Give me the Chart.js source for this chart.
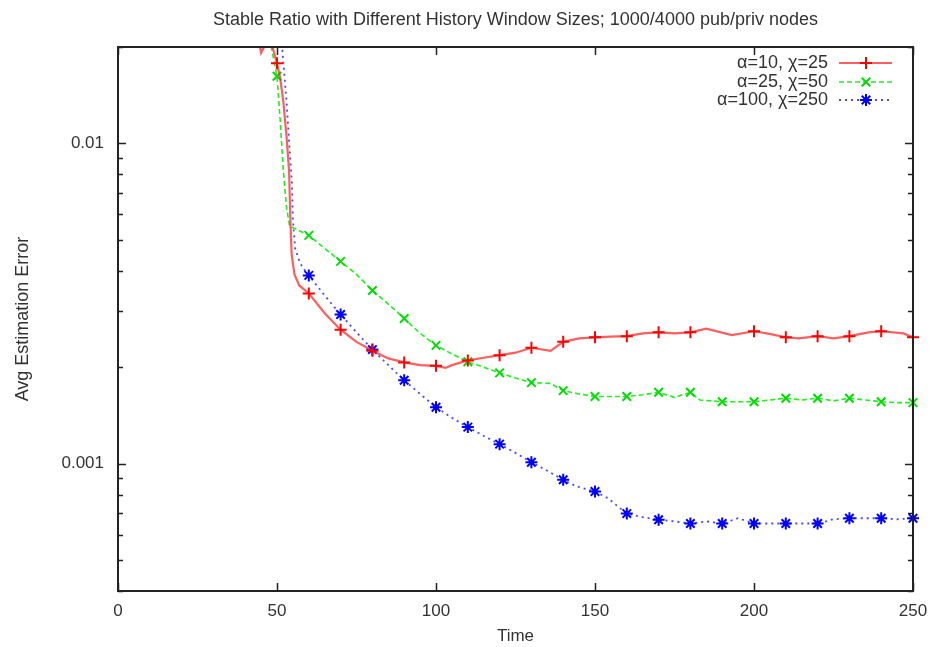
<!DOCTYPE html>
<html>
<head>
<meta charset="utf-8">
<script src="https://cdn.jsdelivr.net/npm/chart.js@4"></script>
<style>
  html, body { margin: 0; padding: 0; background: #fff; }
  #wrap { width: 933px; height: 647px; position: relative; }
</style>
</head>
<body>
<div id="wrap"><canvas id="chart" width="933" height="647"></canvas></div>
<script>
// Dados
const titleText = "Stable Ratio with Different History Window Sizes; 1000/4000 pub/priv nodes";
const xTicks = [0, 50, 100, 150, 200, 250];
const yLabels = [0.001, 0.01];

const redLabel = "\u03b1=10, \u03c7=25";
const redTime = [40, 43, 45, 46.5, 48, 50, 51, 52, 53, 53.8, 54.2, 54.6, 55.5, 57, 60, 65, 70, 75, 80, 85, 90, 95, 100, 103, 105, 110, 115, 120, 125, 130, 136, 140, 145, 150, 155, 160, 165, 170, 175, 180, 185, 193, 200, 204, 210, 214, 220, 225, 230, 236, 240, 247, 250];
const redError = [0.03, 0.024, 0.0192, 0.0205, 0.021, 0.0178, 0.016, 0.0135, 0.0105, 0.0082, 0.0058, 0.0045, 0.0039, 0.0036, 0.0034, 0.00295, 0.00262, 0.0024, 0.00225, 0.00213, 0.00207, 0.00203, 0.00202, 0.00199, 0.00203, 0.0021, 0.00214, 0.00218, 0.00222, 0.0023, 0.00225, 0.0024, 0.00246, 0.00248, 0.00249, 0.0025, 0.00255, 0.00257, 0.00255, 0.00257, 0.00264, 0.00252, 0.00259, 0.00255, 0.00248, 0.00246, 0.0025, 0.00246, 0.0025, 0.00257, 0.00259, 0.00255, 0.00248];

const greenLabel = "\u03b1=25, \u03c7=50";
const greenTime = [45, 48, 50, 51, 52, 53, 54, 56, 60, 65, 70, 75, 80, 85, 90, 95, 100, 105, 110, 115, 120, 125, 130, 136, 140, 145, 150, 155, 160, 165, 170, 175, 180, 183, 190, 195, 200, 205, 210, 215, 220, 225, 230, 235, 240, 245, 250];
const greenError = [0.03, 0.0205, 0.0162, 0.0118, 0.0082, 0.0063, 0.0055, 0.0054, 0.00516, 0.0047, 0.00428, 0.0039, 0.00347, 0.00315, 0.00284, 0.00255, 0.00234, 0.0022, 0.00208, 0.002, 0.00192, 0.00185, 0.00179, 0.00178, 0.00169, 0.00165, 0.00162, 0.00162, 0.00162, 0.00164, 0.00167, 0.00161, 0.00167, 0.00158, 0.00156, 0.00156, 0.00156, 0.00158, 0.0016, 0.00158, 0.0016, 0.00157, 0.0016, 0.00158, 0.00156, 0.00155, 0.00155];

const blueLabel = "\u03b1=100, \u03c7=250";
const blueTime = [45, 50, 51.6, 53, 54, 54.7, 55, 55.7, 57, 58, 60, 65, 70, 75, 80, 85, 90, 95, 100, 105, 110, 115, 120, 125, 130, 135, 140, 144, 150, 154, 160, 165, 170, 175, 180, 185, 190, 195, 200, 205, 210, 215, 220, 225, 230, 235, 240, 245, 250];
const blueError = [0.05, 0.026, 0.02, 0.0135, 0.0095, 0.0075, 0.0058, 0.0047, 0.0043, 0.0041, 0.00387, 0.00335, 0.00292, 0.00257, 0.00227, 0.00203, 0.00182, 0.00165, 0.0015, 0.00139, 0.0013, 0.00122, 0.00115, 0.00108, 0.00101, 0.00095, 0.00089, 0.00085, 0.000818, 0.00078, 0.000698, 0.00068, 0.000668, 0.00066, 0.00065, 0.00066, 0.00065, 0.000675, 0.00065, 0.00065, 0.00065, 0.00065, 0.00065, 0.00067, 0.000675, 0.000675, 0.000675, 0.00067, 0.000675];

const FONT = "'Liberation Sans', Arial, sans-serif";
const TEXT = "#333";

function toPoints(t, v) {
    return t.map((x, i) => ({ x, y: v[i] }));
}

function makeSeries(label, t, v, color, lineColor, dash, style, width, size) {
    // marcadores só a cada 10 unidades de tempo
    const radius = ctx => (ctx.raw && ctx.raw.x % 10 === 0 ? size : 0);
    return {
        label,
        data: toPoints(t, v),
        borderColor: lineColor,
        borderWidth: width,
        borderDash: dash,
        pointStyle: style,
        pointRadius: radius,
        pointHoverRadius: radius,
        pointBorderColor: color,
        pointBackgroundColor: color,
        pointBorderWidth: 2,
        markerSize: size,
        tension: 0,
        fill: false,
        clip: { left: 0, top: 0, right: 8, bottom: 0 },
    };
}

const datasets = [
    makeSeries(redLabel, redTime, redError, "#ff0000", "rgba(255,40,40,0.75)", [], "cross", 2.2, 6),
    makeSeries(greenLabel, greenTime, greenError, "#00dd00", "#22ee22", [5, 3], "crossRot", 1.6, 6),
    makeSeries(blueLabel, blueTime, blueError, "#0000ff", "rgba(40,40,255,0.85)", [2, 4], "star", 1.8, 6),
];

// moldura, ticks internos, título e legenda estilo gnuplot
const gnuplotFrame = {
    id: "gnuplotFrame",
    afterDatasetsDraw(chart) {
        const { ctx, chartArea: a, scales } = chart;
        const xs = scales.x, ys = scales.y;
        ctx.save();
        ctx.strokeStyle = "#222";
        ctx.lineWidth = 1.5;

        ctx.beginPath();
        xTicks.forEach(v => {
            const px = Math.round(xs.getPixelForValue(v)) + 0.5;
            ctx.moveTo(px, a.bottom); ctx.lineTo(px, a.bottom - 8);
            ctx.moveTo(px, a.top); ctx.lineTo(px, a.top + 8);
        });
        for (let e = -4; e <= -2; e++) {
            for (let m = 1; m <= 9; m++) {
                const v = m * Math.pow(10, e);
                if (v < ys.min * 0.999 || v > ys.max * 1.001) continue;
                const py = Math.round(ys.getPixelForValue(v)) + 0.5;
                const len = m === 1 ? 8 : 5;
                ctx.moveTo(a.left, py); ctx.lineTo(a.left + len, py);
                ctx.moveTo(a.right, py); ctx.lineTo(a.right - len, py);
            }
        }
        ctx.stroke();

        ctx.lineWidth = 2;
        ctx.strokeRect(a.left, a.top, a.right - a.left, a.bottom - a.top);

        // título
        ctx.fillStyle = TEXT;
        ctx.font = "18px " + FONT;
        ctx.textAlign = "center";
        ctx.textBaseline = "middle";
        ctx.fillText(titleText, (a.left + a.right) / 2, 20);

        // legenda
        const rows = [63, 82, 100];
        chart.data.datasets.forEach((ds, i) => {
            const y = rows[i];
            ctx.fillStyle = TEXT;
            ctx.textAlign = "right";
            ctx.fillText(ds.label, 828, y);
            ctx.save();
            ctx.strokeStyle = ds.borderColor;
            ctx.lineWidth = ds.borderWidth;
            ctx.setLineDash(ds.borderDash);
            ctx.beginPath();
            ctx.moveTo(839, y); ctx.lineTo(892, y);
            ctx.stroke();
            ctx.restore();
            ctx.save();
            ctx.strokeStyle = ds.pointBorderColor;
            ctx.fillStyle = ds.pointBackgroundColor;
            ctx.lineWidth = 2;
            Chart.helpers.drawPoint(ctx, { pointStyle: ds.pointStyle, radius: ds.markerSize, borderWidth: 2, rotation: 0 }, 866, y);
            ctx.restore();
        });
        ctx.restore();
    }
};

const chart = new Chart(document.getElementById("chart").getContext("2d"), {
    type: "line",
    data: { datasets },
    plugins: [gnuplotFrame],
    options: {
        responsive: false,
        animation: false,
        events: [],
        layout: { padding: { top: 47, right: 20, left: 12, bottom: 0 } },
        plugins: {
            legend: { display: false },
            title: { display: false },
            tooltip: { enabled: false },
        },
        scales: {
            x: {
                type: "linear",
                min: 0,
                max: 250,
                afterBuildTicks: s => { s.ticks = xTicks.map(v => ({ value: v })); },
                afterFit: s => { s.height = 56; s.paddingLeft = 0; s.paddingRight = 0; },
                grid: { display: false, drawTicks: false },
                border: { display: false },
                ticks: { color: TEXT, font: { family: FONT, size: 17 }, padding: 10, maxRotation: 0 },
                title: { display: true, text: "Time", color: TEXT, font: { family: FONT, size: 17 }, padding: { top: 11, bottom: 0 } },
            },
            y: {
                type: "logarithmic",
                min: 0.0004,
                max: 0.02,
                afterBuildTicks: s => { s.ticks = yLabels.map(v => ({ value: v })); },
                afterFit: s => { s.width = 106; s.paddingTop = 0; s.paddingBottom = 0; },
                grid: { display: false, drawTicks: false },
                border: { display: false },
                ticks: {
                    color: TEXT,
                    font: { family: FONT, size: 17 },
                    padding: 14,
                    callback: v => String(v),
                },
                title: { display: true, text: "Avg Estimation Error", color: TEXT, font: { family: FONT, size: 18 }, padding: { top: 0, bottom: 0 } },
            },
        },
    },
});
</script>
</body>
</html>
